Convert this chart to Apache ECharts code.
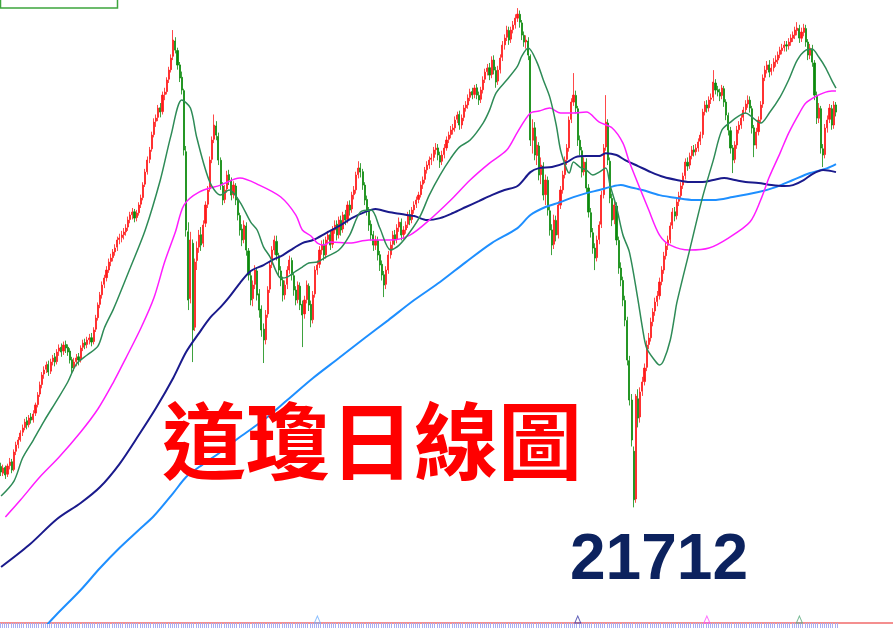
<!DOCTYPE html>
<html><head><meta charset="utf-8">
<script src="https://cdn.jsdelivr.net/npm/echarts@6/dist/echarts.min.js"></script>
<style>html,body{margin:0;padding:0;background:#fff}#c{width:893px;height:628px}</style>
</head><body><div id="c"></div>
<script>
// Daily candles (open, close, low, high)
const opens = [
22140,22070,22130,22060,22150,22190,22110,22300,22370,22420,
22500,22550,22620,22580,22660,22630,22700,22790,22900,23000,
23110,23160,23210,23140,23240,23290,23240,23350,23390,23350,
23420,23390,23350,23260,23180,23240,23290,23260,23390,23440,
23420,23470,23490,23450,23580,23700,23840,23940,24050,24120,
24200,24290,24330,24390,24440,24520,24540,24570,24600,24650,
24730,24780,24810,24750,24800,24890,24960,25100,25230,25360,
25470,25620,25760,25800,25900,25860,26040,26070,26200,26300,
26440,26600,26500,26350,26220,26080,25440,24600,23900,24480,
23600,24300,24440,24570,24480,24690,24890,25050,25360,25570,
25710,25600,25350,25080,24940,25050,25200,25140,24990,25080,
24930,24770,24630,24520,24660,24400,24140,23900,24050,24190,
23950,23790,23580,23470,23740,24000,24260,24410,24500,24350,
24190,24090,23940,24050,24200,24300,24140,23990,23890,24030,
23840,23740,23890,24030,23840,23680,23950,24200,24260,24410,
24470,24360,24520,24570,24470,24620,24680,24570,24720,24630,
24780,24730,24880,24840,24990,25040,25200,25270,25230,25090,
24940,24830,24680,24570,24460,24510,24360,24260,24150,24050,
24200,24360,24470,24570,24520,24650,24700,24570,24620,24680,
24780,24730,24830,24890,24940,24990,25100,25150,25250,25300,
25360,25380,25460,25480,25400,25340,25410,25480,25570,25620,
25670,25690,25780,25830,25720,25800,25900,25930,26010,26070,
26040,26110,26030,25990,26090,26200,26280,26320,26250,26400,
26290,26180,26300,26430,26560,26640,26710,26620,26720,26770,
26840,26880,26790,26660,26590,26600,26440,25560,25690,25400,
25500,25200,25290,24990,25140,24820,24620,24470,24720,24570,
24880,25040,25200,25360,25480,25780,25960,26030,25890,25560,
25450,25230,25330,25060,24800,24590,24430,24330,24520,24680,
24990,25490,25740,25340,24950,24730,24870,24510,24220,24090,
23880,23670,23250,22837,22300,21800,22850,22660,22930,23030,
23180,23420,23490,23660,23770,23870,23930,24080,24200,24350,
24460,24520,24670,24810,24770,24920,24980,25090,25190,25330,
25300,25400,25460,25440,25480,25550,25620,25860,25930,25900,
25990,26010,26160,26090,26060,26030,26100,25960,25820,25660,
25480,25360,25510,25670,25720,25800,25880,25940,25980,25890,
25690,25510,25650,25780,25940,26220,26300,26350,26280,26320,
26380,26400,26460,26500,26530,26560,26550,26590,26630,26660,
26710,26730,26630,26690,26730,26590,26450,26520,26370,26030,
25790,25890,25470,25410,25690,25780,25890,25720,25930];
const closes = [
22082,22124,22051,22145,22187,22103,22292,22365,22418,22491,
22544,22606,22575,22648,22627,22690,22785,22889,22994,23099,
23151,23204,23130,23235,23277,23235,23340,23382,23340,23413,
23382,23340,23256,23172,23235,23277,23256,23382,23434,23413,
23466,23487,23445,23571,23696,23833,23937,24042,24116,24199,
24283,24325,24388,24430,24514,24535,24566,24598,24640,24723,
24776,24807,24744,24797,24881,24954,25090,25226,25352,25457,
25614,25750,25792,25897,25855,26033,26065,26191,26295,26421,
26610,26505,26348,26212,26086,25457,24619,23885,24514,23571,
24283,24430,24566,24461,24671,24881,25038,25352,25562,25719,
25614,25352,25090,24933,25038,25195,25143,24985,25090,24933,
24776,24619,24514,24671,24409,24147,23885,24042,24199,23937,
23780,23571,23466,23728,23990,24252,24409,24514,24357,24199,
24095,23937,24042,24199,24304,24147,23990,23885,24042,23833,
23728,23885,24042,23833,23675,23937,24199,24252,24409,24461,
24357,24514,24566,24461,24619,24671,24566,24723,24619,24776,
24723,24881,24828,24985,25038,25195,25268,25226,25090,24933,
24828,24671,24566,24461,24514,24357,24252,24147,24042,24199,
24357,24461,24566,24514,24640,24702,24566,24619,24671,24776,
24723,24828,24881,24933,24985,25090,25143,25247,25300,25352,
25373,25457,25478,25405,25331,25405,25478,25562,25614,25667,
25688,25771,25824,25719,25792,25897,25929,26002,26065,26033,
26107,26033,25981,26086,26191,26274,26316,26243,26400,26295,
26170,26295,26421,26557,26631,26715,26610,26715,26767,26840,
26882,26798,26662,26589,26610,26453,25562,25688,25405,25509,
25195,25300,24985,25143,24828,24619,24461,24723,24566,24881,
25038,25195,25352,25478,25771,25960,26033,25897,25562,25457,
25226,25331,25059,24807,24598,24430,24325,24514,24671,24985,
25478,25750,25352,24954,24723,24881,24514,24220,24095,23885,
23675,23256,22837,22418,21792,22878,22648,22921,23026,23172,
23413,23487,23654,23759,23864,23927,24074,24199,24346,24451,
24514,24661,24807,24765,24912,24975,25080,25184,25331,25289,
25394,25457,25436,25478,25541,25614,25855,25929,25897,25981,
26002,26170,26086,26065,26023,26107,25960,25824,25667,25478,
25352,25509,25667,25719,25792,25876,25939,25981,25897,25688,
25509,25646,25771,25929,26212,26295,26348,26274,26316,26379,
26400,26453,26505,26526,26557,26547,26589,26631,26662,26715,
26736,26631,26694,26736,26589,26453,26526,26379,26033,25792,
25897,25478,25405,25688,25771,25897,25719,25929,25855];
const lows = [
22040,22040,22010,22030,22110,22070,22090,22260,22330,22400,
22460,22520,22530,22550,22590,22600,22670,22760,22870,22960,
23060,23120,23090,23110,23200,23190,23210,23300,23290,23310,
23330,23300,23220,23120,23140,23190,23200,23230,23350,23370,
23380,23420,23400,23420,23550,23670,23800,23900,24010,24080,
24170,24240,24290,24350,24400,24470,24490,24520,24560,24610,
24690,24730,24700,24710,24770,24850,24930,25070,25200,25320,
25440,25590,25700,25760,25800,25830,25980,26040,26160,26270,
26400,26470,26300,26170,26040,25400,24550,23780,23850,23235,
23560,24200,24380,24400,24440,24650,24850,25020,25320,25530,
25560,25300,25040,24880,24900,25010,25090,24930,24950,24880,
24720,24560,24450,24480,24350,24090,23830,23820,24000,23880,
23700,23500,23225,23420,23700,23960,24220,24360,24300,24140,
24030,23870,23890,24000,24160,24090,23930,23830,23850,23780,
23392,23690,23850,23770,23600,23640,23910,24150,24220,24360,
24300,24320,24470,24410,24430,24580,24510,24530,24560,24590,
24670,24690,24770,24800,24940,25000,25160,25170,25040,24880,
24770,24610,24510,24400,24410,24300,24190,24090,23916,24000,
24160,24320,24420,24460,24480,24600,24510,24520,24580,24640,
24670,24690,24790,24850,24900,24960,25050,25110,25210,25260,
25300,25340,25410,25350,25270,25300,25370,25450,25530,25580,
25620,25650,25740,25670,25680,25760,25860,25890,25970,25990,
26000,25990,25930,25950,26050,26160,26240,26190,26210,26250,
26110,26140,26260,26390,26510,26600,26560,26580,26680,26730,
26800,26740,26610,26540,26520,26400,25500,25420,25350,25300,
25140,25100,24930,24880,24770,24560,24356,24420,24500,24530,
24840,25000,25160,25300,25440,25740,25920,25840,25500,25400,
25170,25190,25000,24750,24540,24370,24199,24290,24470,24640,
24950,25450,25300,24900,24660,24680,24460,24160,24030,23820,
23610,23200,22780,22350,21712,21760,22550,22600,22880,22990,
23140,23370,23450,23610,23720,23820,23890,24040,24160,24310,
24410,24480,24630,24710,24730,24870,24940,25050,25150,25240,
25260,25360,25390,25400,25440,25510,25580,25820,25850,25860,
25940,25970,26040,26020,25970,25990,25910,25770,25610,25420,
25216,25320,25470,25630,25680,25760,25840,25900,25850,25630,
25383,25470,25610,25740,25900,26180,26260,26220,26240,26280,
26330,26360,26420,26460,26490,26490,26510,26550,26590,26620,
26660,26580,26590,26650,26540,26400,26410,26330,25980,25730,
25740,25420,25279,25370,25640,25740,25670,25680,25810];
const highs = [
22180,22160,22150,22170,22230,22220,22320,22400,22450,22520,
22580,22640,22660,22680,22700,22730,22810,22920,23030,23130,
23190,23240,23250,23270,23310,23330,23370,23420,23430,23450,
23460,23420,23380,23290,23280,23320,23330,23410,23470,23480,
23500,23530,23540,23600,23730,23860,23970,24080,24150,24240,
24320,24370,24420,24470,24550,24580,24610,24640,24680,24760,
24810,24850,24840,24830,24910,24990,25120,25260,25390,25490,
25650,25790,25830,25930,25950,26070,26110,26220,26330,26460,
26715,26640,26530,26380,26280,26100,25500,24700,24600,24520,
24320,24500,24620,24650,24720,24920,25080,25390,25600,25830,
25760,25640,25380,25120,25090,25240,25250,25170,25130,25110,
24960,24800,24680,24720,24700,24430,24180,24090,24250,24230,
24000,23830,23640,23780,24030,24290,24450,24560,24560,24380,
24240,24130,24090,24240,24350,24330,24180,24030,24080,24070,
23880,23930,24090,24060,23880,23980,24240,24300,24450,24510,
24520,24550,24610,24620,24660,24720,24720,24760,24770,24810,
24830,24920,24930,25020,25080,25230,25340,25320,25260,25120,
24980,24860,24720,24610,24560,24550,24400,24300,24190,24240,
24400,24500,24610,24620,24680,24750,24740,24660,24710,24810,
24830,24860,24920,24970,25020,25130,25180,25280,25340,25390,
25420,25490,25530,25520,25440,25450,25520,25600,25650,25710,
25730,25810,25860,25870,25830,25930,25970,26040,26100,26110,
26140,26150,26070,26120,26230,26310,26360,26370,26440,26450,
26330,26340,26460,26600,26670,26760,26750,26750,26810,26880,
26945,26920,26820,26700,26660,26640,26460,25780,25750,25600,
25540,25380,25330,25200,25180,24870,24680,24780,24770,24920,
25080,25240,25390,25520,25810,26000,26264,26080,25920,25610,
25490,25380,25370,25100,24850,24640,24480,24560,24710,25030,
25520,26033,25780,25380,25000,24930,24910,24550,24280,24130,
23930,23710,23300,22900,22350,22900,22950,22970,23080,23220,
23460,23540,23700,23800,23910,23980,24120,24240,24390,24490,
24560,24700,24850,24860,24950,25020,25120,25220,25370,25380,
25430,25500,25510,25520,25580,25650,25890,25970,25980,26020,
26050,26295,26200,26130,26100,26140,26130,25990,25850,25700,
25510,25550,25710,25760,25830,25910,25980,26030,26020,25920,
25720,25690,25810,25970,26250,26340,26390,26400,26360,26420,
26450,26490,26540,26570,26600,26600,26630,26670,26700,26750,
26798,26770,26740,26780,26770,26620,26570,26560,26400,26070,
25950,25920,25520,25730,25820,25940,25930,25970,25960];

// Moving averages: [candle index, value]
const ma20 = [[0,21831],[6,21988],[10,22229],[15,22418],[20,22617],[26,22837],[31,23026],[35,23214],[40,23309],[45,23403],[48,23592],[52,23780],[54,23885],[60,24220],[67,24619],[74,25143],[79,25614],[84,25981],[88,25897],[91,25583],[97,25122],[102,24985],[106,25038],[111,24912],[116,24702],[119,24619],[122,24440],[125,24336],[128,24178],[130,24116],[133,24126],[137,24189],[140,24231],[143,24273],[147,24283],[151,24336],[157,24409],[162,24566],[167,24807],[172,24828],[176,24640],[181,24409],[185,24461],[190,24598],[195,24776],[199,24985],[204,25195],[209,25373],[213,25488],[218,25562],[224,25740],[227,25876],[230,26054],[235,26191],[240,26337],[242,26442],[245,26526],[249,26379],[252,26191],[255,26012],[258,25719],[260,25457],[263,25247],[264,25216],[266,25331],[269,25279],[272,25247],[275,25195],[278,25226],[281,25268],[283,25090],[286,24860],[289,24566],[292,24388],[296,23885],[298,23602],[300,23382],[304,23246],[306,23204],[308,23256],[311,23466],[313,23717],[314,23853],[320,24409],[326,24964],[331,25352],[335,25667],[339,25750],[342,25803],[346,25845],[349,25803],[353,25740],[357,25845],[362,26012],[366,26191],[370,26400],[374,26505],[377,26515],[380,26432],[383,26327],[386,26191],[388,26107]];
const ma60 = [[2,21611],[9,21789],[18,22030],[27,22240],[37,22502],[45,22743],[52,23015],[58,23277],[65,23592],[71,23906],[76,24283],[81,24598],[85,24881],[92,25017],[102,25090],[111,25164],[120,25090],[130,24965],[137,24776],[140,24619],[144,24556],[147,24482],[150,24461],[153,24493],[162,24482],[171,24514],[181,24514],[190,24566],[199,24723],[209,24933],[218,25143],[227,25320],[235,25457],[240,25646],[246,25845],[250,25866],[255,25897],[260,25845],[266,25845],[272,25855],[278,25750],[284,25688],[289,25530],[292,25331],[301,24828],[306,24566],[311,24461],[320,24409],[329,24430],[338,24535],[348,24702],[353,24933],[357,25174],[362,25425],[366,25635],[371,25845],[374,25950],[378,26012],[382,26054],[386,26075],[388,26075]];
const ma120 = [[0,21087],[13,21317],[26,21590],[37,21758],[46,21925],[55,22166],[64,22470],[72,22753],[80,23068],[86,23340],[92,23539],[97,23696],[102,23811],[106,23916],[111,24063],[116,24189],[122,24252],[126,24304],[131,24357],[136,24430],[140,24482],[145,24514],[151,24587],[157,24660],[163,24744],[169,24807],[174,24839],[180,24807],[186,24786],[192,24765],[198,24723],[204,24744],[210,24797],[216,24860],[222,24922],[228,24985],[234,25038],[240,25080],[246,25226],[250,25268],[256,25279],[263,25331],[267,25383],[272,25394],[278,25394],[281,25425],[286,25405],[290,25352],[296,25289],[302,25226],[308,25174],[314,25143],[320,25122],[326,25122],[331,25143],[336,25164],[341,25143],[346,25122],[352,25111],[358,25090],[364,25080],[368,25090],[373,25143],[377,25206],[382,25247],[388,25226]];
const ma240 = [[20,20448],[26,20594],[37,20846],[46,21076],[55,21286],[64,21475],[71,21621],[80,21862],[86,22030],[92,22135],[102,22292],[111,22449],[122,22627],[133,22837],[145,23068],[157,23277],[169,23487],[180,23675],[192,23885],[204,24074],[216,24283],[228,24482],[240,24639],[246,24776],[253,24860],[260,24912],[266,24964],[272,25006],[278,25038],[283,25069],[288,25090],[292,25069],[298,25038],[306,24985],[314,24954],[322,24933],[331,24933],[340,24964],[352,25017],[360,25069],[368,25143],[376,25216],[384,25268],[388,25310]];

// MA window-start markers along the bottom (candle index)
const markerIdx = [147, 268, 328, 371];
const markerColors = ['#6fb0ff', '#3838a8', '#ff4cff', '#58aa7c'];

const titleText = '道瓊日線圖';
const lowText = '21712';

const SLOTS = 415;
const categories = Array.from({length: SLOTS}, (_, i) => 'd' + (i + 1));
const candles = closes.map((c, i) => [opens[i], c, lows[i], highs[i]]);

const chart = echarts.init(document.getElementById('c'));
chart.setOption({
  animation: false,
  backgroundColor: '#ffffff',
  grid: {left: 0, right: 0, top: 0, bottom: 5},
  xAxis: [
    {type: 'category', data: categories, boundaryGap: true,
     axisLine: {onZero: false, lineStyle: {color: '#f06a6a', width: 1.5}},
     axisTick: {show: true, length: 5, interval: function (i) { return i <= closes.length; },
                lineStyle: {color: '#a9aef2', width: 1}},
     axisLabel: {show: false}, splitLine: {show: false}},
    {type: 'value', min: -0.5, max: SLOTS - 0.5, show: false}
  ],
  yAxis: {type: 'value', min: 20500, max: 27030, show: false, splitLine: {show: false}},
  series: [
    {type: 'candlestick', data: candles, barWidth: 1.6,
     itemStyle: {color: '#ff1a1a', color0: '#0c8a0c', borderColor: '#ff1a1a', borderColor0: '#0c8a0c', borderWidth: 0.8}},
    {type: 'line', xAxisIndex: 1, data: ma240, smooth: 0.3, symbol: 'none', lineStyle: {color: '#1e8fff', width: 2}},
    {type: 'line', xAxisIndex: 1, data: ma120, smooth: 0.3, symbol: 'none', lineStyle: {color: '#1a1a8c', width: 2}},
    {type: 'line', xAxisIndex: 1, data: ma60, smooth: 0.3, symbol: 'none', lineStyle: {color: '#ff1cff', width: 1.5}},
    {type: 'line', xAxisIndex: 1, data: ma20, smooth: 0.3, symbol: 'none', lineStyle: {color: '#2e8b57', width: 1.5}},
    {type: 'scatter', symbol: 'triangle', symbolSize: [6, 7],
     data: markerIdx.map((i, k) => ({value: [i, 20537],
       itemStyle: {color: 'rgba(255,255,255,0)', borderColor: markerColors[k], borderWidth: 1}}))}
  ],
  graphic: [
    {type: 'rect', z: 50, shape: {x: 0.5, y: -20, width: 117, height: 28},
     style: {fill: '#ffffff', stroke: '#3da53d', lineWidth: 1.5}},
    {type: 'text', z: 51, style: {x: 4, y: -9, text: 'MA240：', fontSize: 11, fill: '#4f9df2', font: '11px "Liberation Sans"'}},
    {type: 'text', z: 51, style: {x: 56, y: -9, text: '25310.49', fontSize: 11, fill: '#4f9df2', font: '11px "Liberation Sans"'}},
    {type: 'text', z: 100, style: {x: 372, y: 441, text: titleText, align: 'center', verticalAlign: 'middle',
      fill: '#ff0000', font: 'bold 84px "Noto Sans CJK TC", sans-serif'}},
    {type: 'text', z: 100, style: {x: 659, y: 561, text: lowText, align: 'center', verticalAlign: 'middle',
      fill: '#0c225e', font: 'bold 64px "Liberation Sans", Arial, sans-serif'}}
  ]
});
</script></body></html>
